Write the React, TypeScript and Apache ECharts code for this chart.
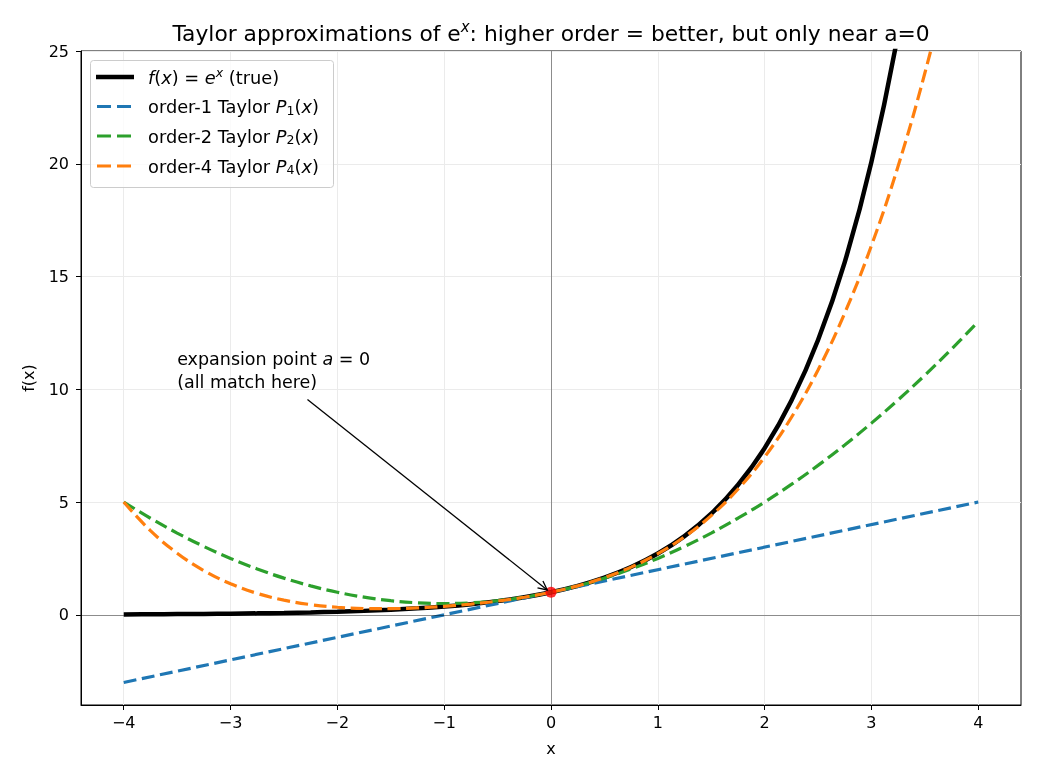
import React, { useEffect, useRef } from "react";
import * as echarts from "echarts";

// sample positions
const XS = [-4, -3.75, -3.5, -3.25, -3, -2.75, -2.5, -2.25, -2, -1.75, -1.5, -1.25, -1, -0.75, -0.5, -0.25, 0,
  0.25, 0.5, 0.75, 1, 1.25, 1.5, 1.75, 2, 2.25, 2.5, 2.75, 3, 3.25, 3.5, 3.75, 4];
// true function e^x
const EXP_Y = [0.0183, 0.0235, 0.0302, 0.0388, 0.0498, 0.0639, 0.0821, 0.1054, 0.1353, 0.1738, 0.2231, 0.2865, 0.3679,
  0.4724, 0.6065, 0.7788, 1, 1.284, 1.6487, 2.117, 2.7183, 3.4903, 4.4817, 5.7546, 7.3891, 9.4877, 12.1825, 15.6426,
  20.0855, 25.7903, 33.1155, 42.5211, 54.5982];
// order-1
const P1_X = [-4, 4];
const P1_Y = [-3, 5];
// order-2
const P2_Y = [5, 4.28125, 3.625, 3.03125, 2.5, 2.03125, 1.625, 1.28125, 1, 0.78125, 0.625, 0.53125, 0.5, 0.53125,
  0.625, 0.78125, 1, 1.28125, 1.625, 2.03125, 2.5, 3.03125, 3.625, 4.28125, 5, 5.78125, 6.625, 7.53125, 8.5, 9.53125,
  10.625, 11.78125, 13];
// order-4
const P4_Y = [5, 3.7319, 2.7318, 1.9585, 1.375, 0.9482, 0.6484, 0.4507, 0.3333, 0.2788, 0.2734, 0.3075, 0.375, 0.4741,
  0.6068, 0.7788, 1, 1.284, 1.6484, 2.1147, 2.7083, 3.4585, 4.3984, 5.5653, 7, 8.7476, 10.8568, 13.3804, 16.375,
  19.9013, 24.0234, 28.81, 34.3333];
const EXPANSION_POINT = [0, 1];
const X_TICKS = [-4, -3, -2, -1, 0, 1, 2, 3, 4];
const Y_TICKS = [0, 5, 10, 15, 20, 25];
const ANNOT_TEXT_AT = [-3.5, 10];
const ARROW_FROM = [-2.28, 9.55];
const ARROW_TO = [-0.035, 1.1];

const FONT = "DejaVu Sans";
const BLUE = "#1f77b4";
const GREEN = "#2ca02c";
const ORANGE = "#ff7f0e";
const DASH = [12.9, 5.6];
const DASH_W = 3.2;
const TICK_FS = 16;
const TXT_FS = 17.8;

export default function App() {
  const ref = useRef<HTMLDivElement>(null);
  useEffect(() => {
    const chart = echarts.init(ref.current!, null, { renderer: "svg" });
    const pair = (xs: number[], ys: number[]) => xs.map((x, i) => [x, ys[i]]);
    const fmt = (v: number) => String(v).replace("-", "\u2212");
    const rich = {
      n: { fontFamily: FONT, fontSize: TXT_FS, color: "#000" },
      i: { fontFamily: FONT, fontSize: TXT_FS, fontStyle: "italic", color: "#000" },
      sup: { fontFamily: FONT, fontSize: 12.5, fontStyle: "italic", color: "#000", padding: [0, 0, 9, 0] },
      sub: { fontFamily: FONT, fontSize: 12.5, color: "#000", padding: [7, 0, 0, 0] },
    };
    chart.setOption({
      animation: false,
      grid: {
        left: 81, top: 51, right: 19, bottom: 75,
        show: true, borderColor: "#000", borderWidth: 1, backgroundColor: "transparent",
      },
      xAxis: {
        type: "value", min: -4.4, max: 4.4,
        name: "x", nameLocation: "middle", nameGap: 35,
        nameTextStyle: { fontFamily: FONT, fontSize: TICK_FS, color: "#000" },
        axisLine: { show: true, onZero: false, lineStyle: { color: "#000", width: 1 } },
        axisTick: { show: true, length: 5, customValues: X_TICKS, lineStyle: { color: "#000" } },
        axisLabel: { customValues: X_TICKS, margin: 9, fontFamily: FONT, fontSize: TICK_FS, color: "#000", formatter: fmt },
        splitLine: { show: true, lineStyle: { color: "#ebebeb", width: 1 } },
      },
      yAxis: {
        type: "value", min: -4, max: 25,
        name: "f(x)", nameLocation: "middle", nameGap: 45, nameRotate: 90,
        nameTextStyle: { fontFamily: FONT, fontSize: TICK_FS, color: "#000" },
        axisLine: { show: true, onZero: false, lineStyle: { color: "#000", width: 1 } },
        axisTick: { show: true, length: 5, customValues: Y_TICKS, lineStyle: { color: "#000" } },
        axisLabel: { customValues: Y_TICKS, margin: 12, fontFamily: FONT, fontSize: TICK_FS, color: "#000", formatter: fmt },
        splitLine: { show: true, lineStyle: { color: "#ebebeb", width: 1 } },
      },
      series: [
        {
          type: "line", name: "true", data: pair(XS, EXP_Y), showSymbol: false, symbol: "none",
          smooth: 0.4, clip: true, z: 3,
          lineStyle: { color: "#000", width: 4.5 },
          markLine: {
            silent: true, symbol: "none", label: { show: false }, animation: false,
            lineStyle: { color: "rgba(0,0,0,0.45)", width: 0.9, type: "solid" },
            data: [{ xAxis: 0 }, { yAxis: 0 }],
          },
        },
        {
          type: "line", name: "P1", data: pair(P1_X, P1_Y), showSymbol: false, symbol: "none", clip: true, z: 4,
          lineStyle: { color: BLUE, width: DASH_W, type: DASH },
        },
        {
          type: "line", name: "P2", data: pair(XS, P2_Y), showSymbol: false, symbol: "none",
          smooth: 0.4, clip: true, z: 4,
          lineStyle: { color: GREEN, width: DASH_W, type: DASH },
        },
        {
          type: "line", name: "P4", data: pair(XS, P4_Y), showSymbol: false, symbol: "none",
          smooth: 0.4, clip: true, z: 4,
          lineStyle: { color: ORANGE, width: DASH_W, type: DASH },
        },
        {
          type: "scatter", name: "a", data: [EXPANSION_POINT], symbol: "circle", symbolSize: 11, z: 6,
          itemStyle: { color: "#ff0000" },
        },
      ],
    });

    const tp = chart.convertToPixel({ gridIndex: 0 }, ANNOT_TEXT_AT) as number[];
    const a0 = chart.convertToPixel({ gridIndex: 0 }, ARROW_FROM) as number[];
    const a1 = chart.convertToPixel({ gridIndex: 0 }, ARROW_TO) as number[];
    const ang = Math.atan2(a1[1] - a0[1], a1[0] - a0[0]);
    const hl = 10, ha = 0.45;
    const h1 = [a1[0] - hl * Math.cos(ang - ha), a1[1] - hl * Math.sin(ang - ha)];
    const h2 = [a1[0] - hl * Math.cos(ang + ha), a1[1] - hl * Math.sin(ang + ha)];

    const legendRows = [
      { color: "#000", w: 4.5, dash: null, x1: 96, x2: 134, text: "{i|f}{n|(}{i|x}{n|) = }{i|e}{sup|x}{n| (true)}" },
      { color: BLUE, w: 3, dash: [14, 6], x1: 97, x2: 131, text: "{n|order-1 Taylor }{i|P}{sub|1}{n|(}{i|x}{n|)}" },
      { color: GREEN, w: 3, dash: [14, 6], x1: 97, x2: 131, text: "{n|order-2 Taylor }{i|P}{sub|2}{n|(}{i|x}{n|)}" },
      { color: ORANGE, w: 3, dash: [14, 6], x1: 97, x2: 131, text: "{n|order-4 Taylor }{i|P}{sub|4}{n|(}{i|x}{n|)}" },
    ];
    const rowY = [77, 106.5, 136, 166];
    const legendEls: any[] = [
      {
        type: "rect", shape: { x: 90.5, y: 60.5, width: 243, height: 127, r: 3 },
        style: { fill: "rgba(255,255,255,0.8)", stroke: "#cccccc", lineWidth: 1 }, z: 100,
      },
    ];
    legendRows.forEach((r, k) => {
      legendEls.push({
        type: "line", shape: { x1: r.x1, y1: rowY[k], x2: r.x2, y2: rowY[k] },
        style: { stroke: r.color, lineWidth: r.w, lineDash: r.dash || undefined }, z: 101,
      });
      legendEls.push({
        type: "text", x: 148, y: rowY[k],
        style: { text: r.text, rich, verticalAlign: "middle", align: "left" }, z: 101,
      });
    });

    chart.setOption({
      graphic: [
        {
          type: "text", x: 551, y: 33, z: 100,
          style: {
            text: "{n|Taylor approximations of e}{s|x}{n|: higher order = better, but only near a=0}",
            align: "center", verticalAlign: "middle",
            rich: {
              n: { fontFamily: FONT, fontSize: 21.8, color: "#000" },
              s: { fontFamily: FONT, fontSize: 15, fontStyle: "italic", color: "#000", padding: [0, 0, 12, 0] },
            },
          },
        },
        ...legendEls,
        {
          type: "text", x: tp[0], y: tp[1] + 4,
          style: {
            text: "{n|expansion point }{i|a}{n| = 0}\n{n|(all match here)}",
            rich: {
              n: { fontFamily: FONT, fontSize: 17.5, color: "#000", lineHeight: 23 },
              i: { fontFamily: FONT, fontSize: 17.5, fontStyle: "italic", color: "#000", lineHeight: 23 },
            },
            align: "left", verticalAlign: "bottom",
          },
          z: 50,
        },
        {
          type: "line", shape: { x1: a0[0], y1: a0[1], x2: a1[0], y2: a1[1] },
          style: { stroke: "#000", lineWidth: 1.3 }, z: 50,
        },
        {
          type: "polyline", shape: { points: [h1, a1, h2] },
          style: { stroke: "#000", lineWidth: 1.3, fill: "none" }, z: 50,
        },
      ],
    });
    return () => chart.dispose();
  }, []);
  return <div ref={ref} style={{ position: "fixed", left: 0, top: 0, width: 1040, height: 780 }} />;
}
